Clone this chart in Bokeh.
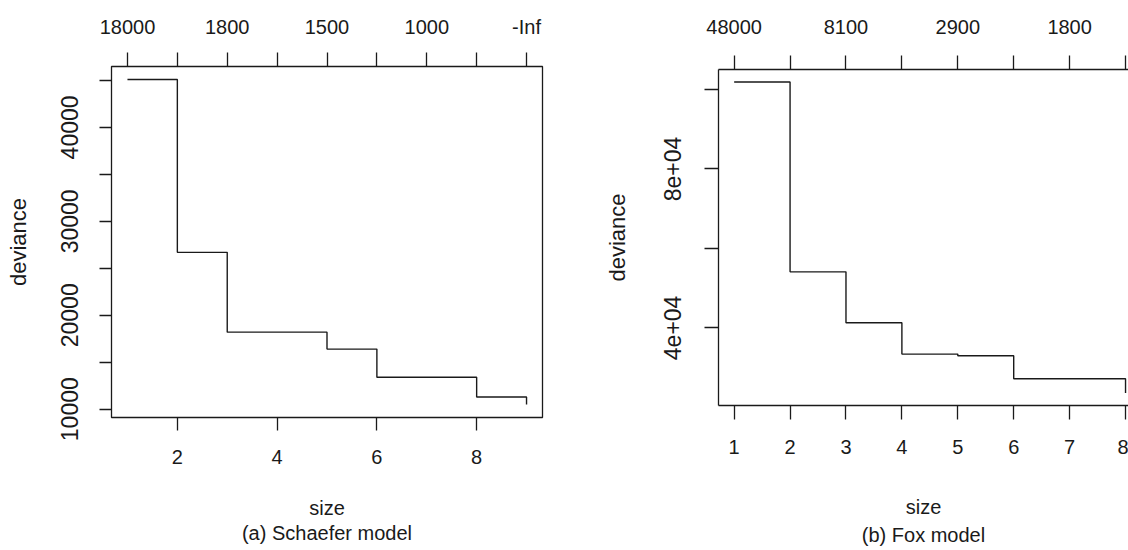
from bokeh.plotting import figure
from bokeh.layouts import row, column
from bokeh.models import LinearAxis, FixedTicker, Range1d
from bokeh.embed import file_html
from bokeh.resources import INLINE

# ---- data: (a) Schaefer model ----
size_a = [1, 2, 3, 4, 5, 6, 7, 8, 9]
dev_a = [45100, 26700, 18200, 18200, 16400, 13400, 13400, 11300, 10500]
k_labels_a = ["18000", "", "1800", "", "1500", "", "1000", "", "-Inf"]
x_ticks_a = [2, 4, 6, 8]
y_ticks_a = [10000, 15000, 20000, 25000, 30000, 35000, 40000, 45000]
y_labels_a = ["10000", "", "20000", "", "30000", "", "40000", ""]

# ---- data: (b) Fox model ----
size_b = [1, 2, 3, 4, 5, 6, 7, 8]
dev_b = [101900, 54100, 41300, 33400, 33000, 27200, 27200, 23600]
k_labels_b = ["48000", "", "8100", "", "2900", "", "1800", ""]
x_ticks_b = [1, 2, 3, 4, 5, 6, 7, 8]
y_ticks_b = [40000, 60000, 80000, 100000]
y_labels_b = ["4e+04", "", "8e+04", ""]

FONT = "Liberation Sans"
INK = "#1a1a1a"
HFS = "20px"   # horizontal text
VFS = "23px"   # rotated tick labels
YLFS = "22px"  # rotated axis title


def pad(vals, f=0.04):
    lo, hi = min(vals), max(vals)
    d = (hi - lo) * f
    return lo - d, hi + d


def style_axis(ax, fs, tick_out, standoff):
    ax.major_label_text_font = FONT
    ax.major_label_text_font_size = fs
    ax.major_label_text_color = INK
    ax.axis_label_text_font = FONT
    ax.axis_label_text_font_size = HFS
    ax.axis_label_text_font_style = "normal"
    ax.axis_label_text_color = INK
    ax.major_tick_in = 0
    ax.major_tick_out = tick_out
    ax.major_tick_line_color = INK
    ax.major_tick_line_width = 1.3
    ax.minor_tick_line_color = None
    ax.major_label_standoff = standoff


def make_panel(size, dev, k_labels, x_ticks, y_ticks, y_labels, caption,
               width, borders, x_end, geo, use_outline):
    bl, bt, br, bb = borders
    x0, x1 = pad(size)
    if x_end is not None:
        x1 = x_end
    y0, y1 = pad(dev)
    p = figure(width=width, height=550, output_backend="svg",
               toolbar_location=None,
               x_range=Range1d(x0, x1), y_range=Range1d(y0, y1),
               x_axis_location=None, y_axis_location=None,
               min_border_left=bl, min_border_top=bt,
               min_border_right=br, min_border_bottom=bb)
    p.grid.visible = False
    p.background_fill_color = "white"
    p.border_fill_color = "white"
    if use_outline:
        p.outline_line_color = INK
        p.outline_line_width = 1.3
    else:
        p.outline_line_color = None

    (bot_tick, bot_so, lab_so, cap_so), (top_tick, top_so), (left_tick, left_so, ylab_so) = geo

    # bottom axis
    xb = LinearAxis(ticker=FixedTicker(ticks=x_ticks), axis_label="size")
    style_axis(xb, HFS, bot_tick, bot_so)
    xb.axis_label_standoff = lab_so
    p.add_layout(xb, "below")

    # caption line under the axis title
    xc = LinearAxis(ticker=FixedTicker(ticks=[]), axis_label=caption)
    style_axis(xc, HFS, 0, 0)
    xc.axis_label_standoff = cap_so
    xc.axis_line_color = None
    p.add_layout(xc, "below")

    # top axis with complexity parameter labels
    xt = LinearAxis(ticker=FixedTicker(ticks=size),
                    major_label_overrides={s: l for s, l in zip(size, k_labels)})
    style_axis(xt, HFS, top_tick, top_so)
    p.add_layout(xt, "above")

    # left axis
    yl = LinearAxis(ticker=FixedTicker(ticks=y_ticks),
                    major_label_overrides={t: l for t, l in zip(y_ticks, y_labels)},
                    axis_label="deviance", major_label_orientation="vertical")
    style_axis(yl, VFS, left_tick, left_so)
    yl.axis_label_text_font_size = YLFS
    yl.axis_label_standoff = ylab_so
    p.add_layout(yl, "left")

    for ax in (xb, xt, yl):
        if use_outline:
            ax.axis_line_color = None
        else:
            ax.axis_line_color = INK
            ax.axis_line_width = 1.3

    p.step(size, dev, mode="after", line_color=INK, line_width=1.4)
    return p


pa = make_panel(size_a, dev_a, k_labels_a, x_ticks_a, y_ticks_a, y_labels_a,
                "(a) Schaefer model", 564, (111, 66, 22, 133), None,
                ((13, 19, 30, 0), (14, 15), (12, 21, 28)), True)

pb = make_panel(size_b, dev_b, k_labels_b, x_ticks_b, y_ticks_b, y_labels_b,
                "(b) Fox model", 564, (154, 69, 0, 145), 8.053,
                ((14, 20, 39, 3), (14, 22), (14, 23, 32)), False)

layout = row(column(pa), column(pb))
open("out.html", "w").write(file_html(layout, INLINE))
